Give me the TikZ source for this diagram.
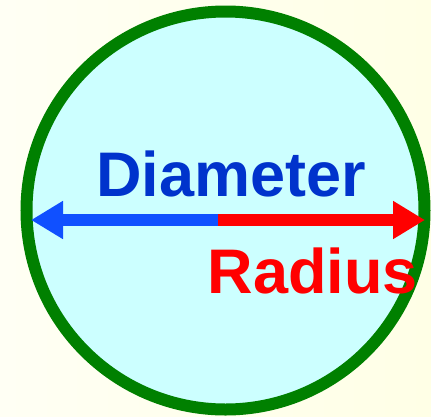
\documentclass[tikz,border=0pt]{standalone}
\usepackage{fontspec}
\setmainfont{Liberation Sans}
\usetikzlibrary{arrows.meta}
\definecolor{bgyellow}{HTML}{FFFFE6}
\definecolor{bgwhite}{HTML}{FFFFF4}
\definecolor{discfill}{HTML}{CCFFFF}
\definecolor{rimgreen}{HTML}{008000}
\definecolor{diamblue}{HTML}{1050FF}
\definecolor{textblue}{HTML}{0033CC}
\begin{document}
\begin{tikzpicture}[x=1pt,y=-1pt,>={Triangle[length=32pt,width=36pt]},
  label/.style={font=\fontsize{63}{70}\selectfont\bfseries,anchor=base}]
  \useasboundingbox (0,0) rectangle (431,416);
  \shade[left color=bgwhite,right color=bgyellow] (0,0) rectangle (431,416);
  \draw[rimgreen,fill=discfill,line width=12pt] (225.5,210.5) circle(199);
  \coordinate (c) at (218,220);
  \coordinate (l) at (31,220);
  \coordinate (r) at (425,220);
  \draw[->,diamblue,line width=12pt] (c)--(l);
  \draw[->,red,line width=12pt] (c)--(r);
  \node[label,textblue] (diam) at (231,196) {Diameter};
  \node[label,red] (rad) at (313,293) {Radius};
\end{tikzpicture}
\end{document}
